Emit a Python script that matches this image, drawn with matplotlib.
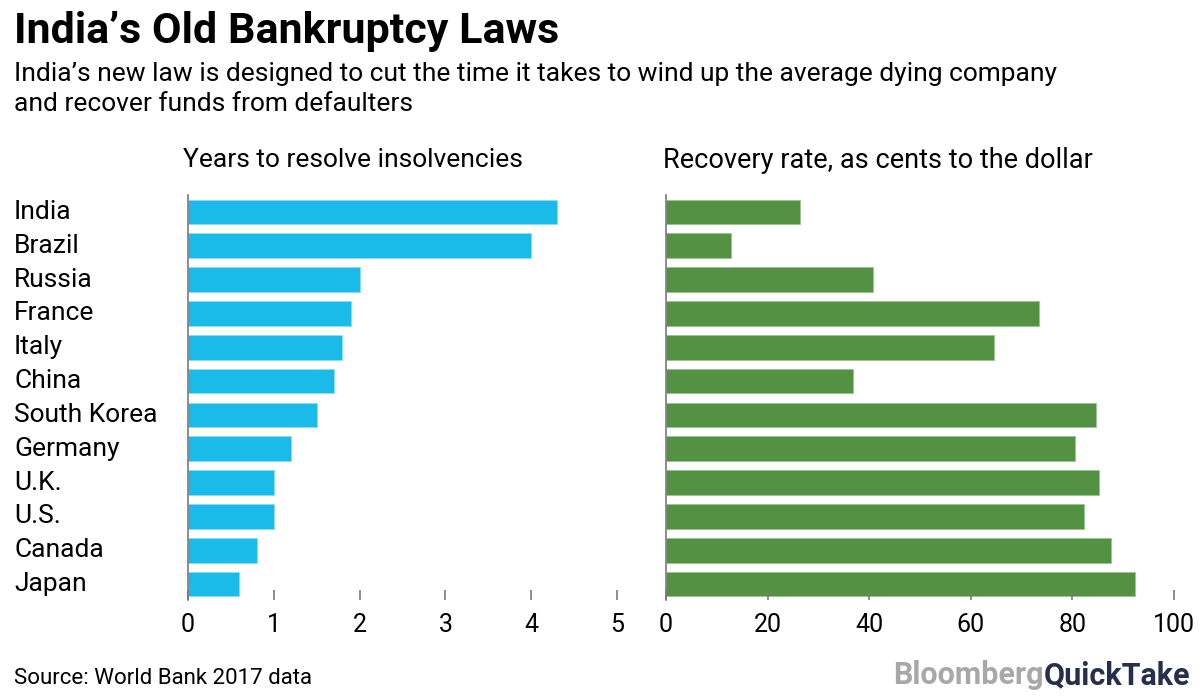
import matplotlib
matplotlib.use("Agg")
import matplotlib.pyplot as plt
import matplotlib.transforms as mtransforms
import numpy as np

plt.rcParams['font.family'] = ['Roboto', 'DejaVu Sans']

countries = ["India", "Brazil", "Russia", "France", "Italy", "China",
             "South Korea", "Germany", "U.K.", "U.S.", "Canada", "Japan"]
years = [4.3, 4.0, 2.0, 1.9, 1.8, 1.7, 1.5, 1.2, 1.0, 1.0, 0.8, 0.6]
recovery = [26.4, 12.7, 40.7, 73.5, 64.6, 36.9, 84.6, 80.6, 85.3, 82.2, 87.5, 92.4]
year_ticks = [0, 1, 2, 3, 4, 5]
rec_ticks = [0, 20, 40, 60, 80, 100]

BLUE = "#1bbbe9"
GREEN = "#539243"
AXGRAY = "#7a7a7a"

W, H = 1200, 700
fig = plt.figure(figsize=(12, 7), dpi=100)


def px_axes(x0, x1, top, bottom):
    return fig.add_axes([x0 / W, (H - bottom) / H, (x1 - x0) / W, (bottom - top) / H])


def style(ax, ticks, xmax):
    n = len(countries)
    ax.set_xlim(0, xmax)
    ax.set_ylim(n - 1 + 0.47, -0.5)
    for s in ["top", "right", "bottom"]:
        ax.spines[s].set_visible(False)
    ax.spines["left"].set_color(AXGRAY)
    ax.spines["left"].set_linewidth(1.2)
    ax.set_yticks([])
    ax.set_xticks(ticks)
    ax.set_xticklabels([str(t) for t in ticks])
    ax.tick_params(axis="x", direction="in", length=7, width=1.2, color=AXGRAY,
                   labelsize=18, pad=9, labelcolor="black")
    ax.set_facecolor("none")


y = np.arange(len(countries))

ax1 = px_axes(188, 617, 195, 600)
ax1.barh(y, years, height=0.73, color=BLUE, edgecolor="#8fdcf3", linewidth=0.6)
style(ax1, year_ticks, 5)

ax2 = px_axes(666, 1174, 195, 600)
ax2.barh(y, recovery, height=0.73, color=GREEN, edgecolor="#9cc491", linewidth=0.6)
style(ax2, rec_ticks, 100)

# country labels
trans = mtransforms.blended_transform_factory(fig.transFigure, ax1.transData)
for i, c in enumerate(countries):
    ax1.text(14 / W, i, c, transform=trans, ha="left", va="center",
             fontsize=19, color="black", clip_on=False)

# titles
fig.text(14 / W, 1 - 31 / H, "India\u2019s Old Bankruptcy Laws", fontsize=31,
         fontweight="bold", ha="left", va="center")
fig.text(14 / W, 1 - 74 / H,
         "India\u2019s new law is designed to cut the time it takes to wind up the average dying company",
         fontsize=19, ha="left", va="center")
fig.text(14 / W, 1 - 104 / H, "and recover funds from defaulters",
         fontsize=19, ha="left", va="center")
fig.text(183 / W, 1 - 160 / H, "Years to resolve insolvencies",
         fontsize=19, ha="left", va="center")
fig.text(663 / W, 1 - 160 / H, "Recovery rate, as cents to the dollar",
         fontsize=19.5, ha="left", va="center")

# footer
fig.text(14 / W, 1 - 678 / H, "Source: World Bank 2017 data",
         fontsize=16, ha="left", va="center")
t2 = fig.text(1190 / W, 1 - 675 / H, "QuickTake", fontsize=22, fontweight="bold",
              color="#27304b", ha="right", va="center")
fig.canvas.draw()
bb = t2.get_window_extent()
fig.text(bb.x0 / W, 1 - 675 / H, "Bloomberg", fontsize=22, fontweight="bold",
         color="#a8a8a8", ha="right", va="center")

fig.savefig("out.png", dpi=100, facecolor="white")
